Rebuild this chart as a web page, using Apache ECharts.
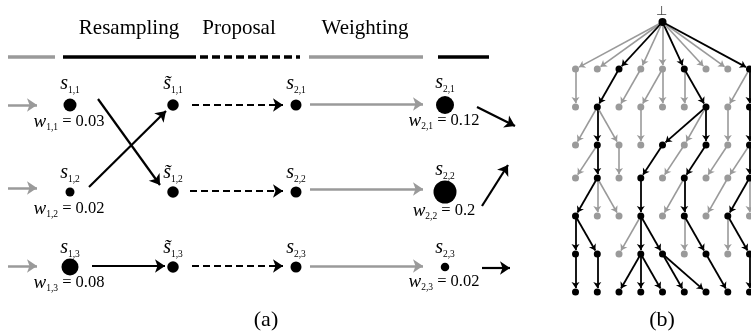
<!DOCTYPE html>
<html>
<head>
<meta charset="utf-8">
<script src="https://cdn.jsdelivr.net/npm/echarts@6/dist/echarts.min.js"></script>
<style>
  html, body { margin: 0; background: #fff; }
  #chart { width: 751px; height: 335px; }
</style>
</head>
<body>
<div id="chart"></div>
<script>
// ---- panel (a): particle filter steps ----
const stageX = [70, 173, 296, 445];          // s1, s~1, s2, weighted s2
const particleY = [105, 192, 267];
const s1Dot = [13, 9, 17];                   // dot diameters
const sTildeDot = [11.5, 11.5, 11.5];
const s2Dot = [11, 11, 11];
const s2wDot = [18, 23, 8.5];
const w1 = ['0.03', '0.02', '0.08'];
const w2 = ['0.12', '0.2', '0.02'];
const stepNames = ['Resampling', 'Proposal', 'Weighting'];
const stepNameX = [129, 239, 365];

// key strokes above the rows: [x1, x2, colour, dashed]
const keyStrokes = [
  [8, 55, 'gray', 0], [63, 188, 'black', 0], [188, 300, 'black', 1],
  [309, 423, 'gray', 0], [438, 489, 'black', 0]
];
// arrows: [x1, y1, x2, y2, colour, dashed]
const stepArrows = [
  [8, 105, 37, 105, 'gray', 0], [8, 188, 37, 188, 'gray', 0], [8, 266, 37, 266, 'gray', 0],
  [98, 99, 160, 185, 'black', 0], [89, 187, 166, 111, 'black', 0], [92, 266, 165, 266, 'black', 0],
  [192, 105, 283, 105, 'black', 1], [190, 191, 283, 191, 'black', 1], [192, 266, 283, 266, 'black', 1],
  [310, 104, 423, 104, 'gray', 0], [310, 189, 423, 189, 'gray', 0], [310, 266, 423, 266, 'gray', 0],
  [477, 107, 515, 126, 'black', 0], [482, 206, 508, 165, 'black', 0], [482, 268, 510, 268, 'black', 0]
];
const sLabelY = [84, 173, 248];
const sWeightedLabelY = [83, 170, 248];
const w1LabelY = [122, 209, 283];
const w2LabelY = [121, 211, 282];

// ---- panel (b): genealogy tree ----
const treeColX = [575.5, 597.3, 619, 640.8, 662.5, 684.3, 706, 727.8, 749.5];
const treeGenY = [22, 69, 107, 145, 178, 216, 254, 292];
// [parentCol, parentGen, childCol, black]
const treeEdges = [
  [4,0,0,0],[4,0,1,0],[4,0,2,1],[4,0,3,0],[4,0,4,0],[4,0,5,1],[4,0,6,0],[4,0,7,0],[4,0,8,1],
  [0,1,0,0],[2,1,1,1],[3,1,2,0],[4,1,3,0],[4,1,4,0],[5,1,5,0],[5,1,6,1],[8,1,7,0],[8,1,8,1],
  [1,2,0,0],[1,2,1,1],[1,2,2,0],[3,2,3,0],[6,2,4,1],[6,2,5,0],[6,2,6,1],[7,2,7,0],[8,2,8,1],
  [1,3,0,0],[1,3,1,1],[2,3,2,0],[4,3,3,1],[5,3,4,0],[6,3,5,1],[7,3,6,0],[8,3,7,0],[8,3,8,1],
  [1,4,0,1],[1,4,1,0],[1,4,2,0],[3,4,3,1],[5,4,4,0],[5,4,5,1],[7,4,6,0],[8,4,7,1],[8,4,8,0],
  [0,5,0,1],[0,5,1,1],[3,5,2,0],[3,5,3,1],[3,5,4,1],[5,5,5,0],[5,5,6,1],[7,5,7,0],[7,5,8,1],
  [0,6,0,1],[1,6,1,1],[3,6,2,1],[3,6,3,1],[3,6,4,1],[4,6,5,1],[4,6,6,1],[6,6,7,1],[8,6,8,1]
];
const captions = ['(a)', '(b)'];
const captionX = [266, 662];

const GRAY = '#9a9a9a';
const INK = '#000';
const SERIF = '"Liberation Serif", "Times New Roman", serif';
const colorOf = c => (c === 'gray' ? GRAY : '#000');

function pullBack(x1, y1, x2, y2, d) {
  const dx = x2 - x1, dy = y2 - y1, len = Math.hypot(dx, dy);
  return [x2 - dx / len * d, y2 - dy / len * d];
}

const chart = echarts.init(document.getElementById('chart'));

// lines for panel (a)
const keyData = keyStrokes.map(k => ({
  coords: [[k[0], 57], [k[1], 57]],
  lineStyle: { color: colorOf(k[2]), width: 3.5, opacity: 1, type: k[3] ? [8, 4] : 'solid' }
}));
const arrowData = stepArrows.map(a => ({
  coords: [[a[0], a[1]], [a[2], a[3]]],
  lineStyle: { color: colorOf(a[4]), width: a[4] === 'gray' ? 2.5 : 2.2, opacity: 1, type: a[5] ? [7, 4] : 'solid' }
}));

// dots for panel (a)
const dotData = [];
[s1Dot, sTildeDot, s2Dot, s2wDot].forEach((sizes, st) => {
  sizes.forEach((d, i) => dotData.push({ value: [stageX[st], particleY[i]], symbolSize: d }));
});

// tree
const isBlack = {};
treeEdges.forEach(e => { isBlack[e[2] + '_' + (e[1] + 1)] = e[3]; });
const treeLineData = treeEdges.map(e => {
  const x1 = treeColX[e[0]], y1 = treeGenY[e[1]];
  const x2 = treeColX[e[2]], y2 = treeGenY[e[1] + 1];
  return {
    coords: [[x1, y1], pullBack(x1, y1, x2, y2, 4)],
    lineStyle: { color: e[3] ? '#000' : GRAY, width: e[3] ? 1.8 : 1.6, opacity: 1 }
  };
});
const treeDotData = [{ value: [treeColX[4], treeGenY[0]], itemStyle: { color: '#000' }, symbolSize: 8 }];
for (let g = 1; g < treeGenY.length; g++) {
  treeColX.forEach((x, c) => {
    treeDotData.push({ value: [x, treeGenY[g]], itemStyle: { color: isBlack[c + '_' + g] ? '#000' : GRAY } });
  });
}

// text
const labelData = [];
const addLabel = (x, y, text) => labelData.push({ value: [x, y], label: { formatter: text } });
stepNames.forEach((n, i) => addLabel(stepNameX[i], 28, '{h|' + n + '}'));
particleY.forEach((y, i) => {
  const k = (i + 1);
  addLabel(stageX[0], sLabelY[i], '{s|s}{sub|1,' + k + '}');
  addLabel(stageX[1], sLabelY[i], '{s|s\u0303}{sub|1,' + k + '}');
  addLabel(stageX[2], sLabelY[i], '{s|s}{sub|2,' + k + '}');
  addLabel(stageX[3], sWeightedLabelY[i], '{s|s}{sub|2,' + k + '}');
  addLabel(stageX[0] - 1, w1LabelY[i], '{w|w}{sub|1,' + k + '}{t| = ' + w1[i] + '}');
  addLabel(stageX[3] - 1, w2LabelY[i], '{w|w}{sub|2,' + k + '}{t| = ' + w2[i] + '}');
});
addLabel(treeColX[4] - 1, 12, '{bot|\u22A5}');
captions.forEach((c, i) => addLabel(captionX[i], 320, '{cap|' + c + '}'));

const option = {
  backgroundColor: '#fff',
  animation: false,
  grid: { left: 0, right: 0, top: 0, bottom: 0 },
  xAxis: { type: 'value', min: 0, max: 751, show: false },
  yAxis: { type: 'value', min: 0, max: 335, inverse: true, show: false },
  series: [
    {
      type: 'lines', coordinateSystem: 'cartesian2d', z: 1,
      symbol: ['none', 'none'], lineStyle: { opacity: 1 }, data: keyData
    },
    {
      type: 'lines', coordinateSystem: 'cartesian2d', z: 2,
      symbol: ['none', 'arrow'], symbolSize: 10, lineStyle: { opacity: 1 }, data: arrowData
    },
    {
      type: 'lines', coordinateSystem: 'cartesian2d', z: 2,
      symbol: ['none', 'arrow'], symbolSize: 6, lineStyle: { opacity: 1 }, data: treeLineData
    },
    {
      type: 'scatter', z: 3, symbol: 'circle', itemStyle: { color: '#000', opacity: 1 },
      data: dotData
    },
    {
      type: 'scatter', z: 3, symbol: 'circle', symbolSize: 7, itemStyle: { opacity: 1 },
      data: treeDotData
    },
    {
      type: 'scatter', z: 4, symbolSize: 0, silent: true, itemStyle: { opacity: 1 },
      label: {
        show: true, position: 'inside', align: 'center', verticalAlign: 'middle', opacity: 1,
        rich: {
          h: { fontFamily: SERIF, fontSize: 21, color: INK },
          s: { fontFamily: SERIF, fontStyle: 'italic', fontSize: 20, lineHeight: 22, color: INK },
          sub: { fontFamily: SERIF, fontSize: 9.5, lineHeight: 10, verticalAlign: 'bottom', color: INK },
          w: { fontFamily: SERIF, fontStyle: 'italic', fontSize: 19, lineHeight: 20, color: INK },
          t: { fontFamily: SERIF, fontSize: 16.5, lineHeight: 20, color: INK },
          bot: { fontFamily: SERIF, fontSize: 13, color: '#444' },
          cap: { fontFamily: SERIF, fontSize: 22, color: INK }
        }
      },
      data: labelData
    }
  ]
};
chart.setOption(option);
</script>
</body>
</html>
